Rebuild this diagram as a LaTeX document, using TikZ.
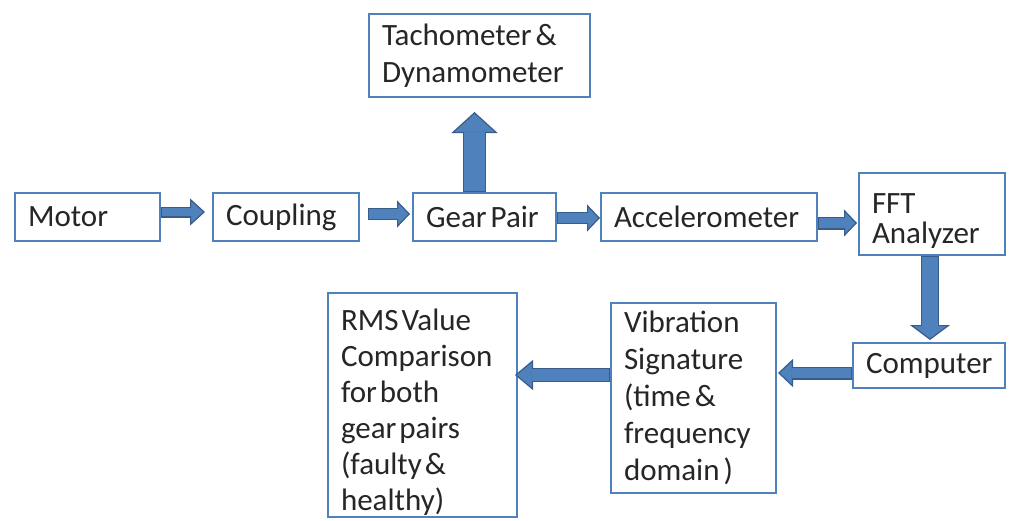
\documentclass[tikz,border=0pt]{standalone}
\usepackage{fontspec}
\setmainfont{Carlito}
\usepackage{tikz}
\usetikzlibrary{arrows.meta}
\definecolor{boxblue}{HTML}{4F81BD}
\definecolor{arrowblue}{HTML}{4F81BD}
\definecolor{arrowedge}{HTML}{385D8A}
\definecolor{textgray}{HTML}{262626}
\newcommand{\blockfont}{\fontsize{31}{37}\selectfont\spaceskip=4pt\relax}
\newcommand{\tightfont}{\fontsize{31}{30}\selectfont\spaceskip=4pt\relax}
\newcommand{\listfont}{\fontsize{31}{36}\selectfont\spaceskip=3pt\relax}
\tikzstyle{block} = [draw=boxblue, line width=2pt, fill=white, inner xsep=13pt, inner ysep=0pt, align=flush left, text=textgray, font=\blockfont]
% block arrow: outer shaft, inner shaft, head width, head length, inner shortening
\tikzset{flow/.style n args={5}{line width=#1, draw=arrowedge, -{Triangle[length=#4,width=#3,fill=arrowblue,line width=1.2pt]}, postaction={draw=arrowblue, line width=#2, -, shorten <=1.2pt, shorten >=#5}}}

\begin{document}
\begin{tikzpicture}[x=1pt,y=-1pt]
\useasboundingbox[fill=white] (0,0) rectangle (1013,520);

%first row
\node[block, text width=119pt, minimum height=48pt] (motor) at (87.5,217) {Motor};
\node[block, text width=120pt, minimum height=48pt] (coupling) at (286,217) {Coupling};
\node[block, text width=117pt, minimum height=48pt] (gear) at (484.5,217) {Gear Pair};
\node[block, text width=190pt, minimum height=48pt] (accel) at (709,217) {Accelerometer};
\node[block, text width=120pt, minimum height=82pt, text height=34pt, font=\tightfont] (fft) at (932,214) {FFT\\Analyzer};
\node[block, text width=195pt, minimum height=83pt] (tacho) at (479.5,55.5) {Tachometer \&\\Dynamometer};

%second row
\node[block, text width=126pt, minimum height=45pt] (computer) at (929,365.5) {Computer};
\node[block, text width=139pt, minimum height=190pt] (vib) at (693.5,398) {Vibration\\Signature\\(time \&\\frequency\\domain )};
\node[block, text width=163pt, minimum height=224pt, text height=36pt, font=\listfont] (rms) at (422.5,405) {RMS Value\\Comparison\\for both\\gear pairs\\(faulty \&\\healthy)};

%arrows
\draw[flow={11pt}{8.6pt}{27pt}{15pt}{13.5pt}] ([yshift=5pt]motor.east) -- ([xshift=-7pt,yshift=5pt]coupling.west);
\draw[flow={12pt}{9.6pt}{27pt}{13pt}{11.5pt}] ([xshift=8pt,yshift=3pt]coupling.east) -- ([xshift=-2pt,yshift=3pt]gear.west);
\draw[flow={12pt}{9.6pt}{27pt}{13pt}{11.5pt}] ([yshift=-1pt]gear.east) -- ([yshift=-1pt]accel.west);
\draw[flow={13pt}{10.6pt}{27pt}{13pt}{11.5pt}] ([yshift=-6pt]accel.east) -- ([xshift=-1pt,yshift=-9pt]fft.west);
\draw[flow={23pt}{20.6pt}{46pt}{21pt}{19.5pt}] ([xshift=-10pt]gear.north) -- ([xshift=-5pt,yshift=-14pt]tacho.south);
\draw[flow={18pt}{15.6pt}{40pt}{15pt}{13.5pt}] ([xshift=-2pt]fft.south) -- ([xshift=1pt,yshift=2pt]computer.north);
\draw[flow={13pt}{10.6pt}{28pt}{15pt}{13.5pt}] ([yshift=-7.5pt]computer.west) -- ([xshift=1pt,yshift=25pt]vib.east);
\draw[flow={14pt}{11.6pt}{30pt}{18pt}{16.5pt}] ([yshift=23pt]vib.west) -- ([xshift=-3pt,yshift=30pt]rms.east);

\end{tikzpicture}
\end{document}
